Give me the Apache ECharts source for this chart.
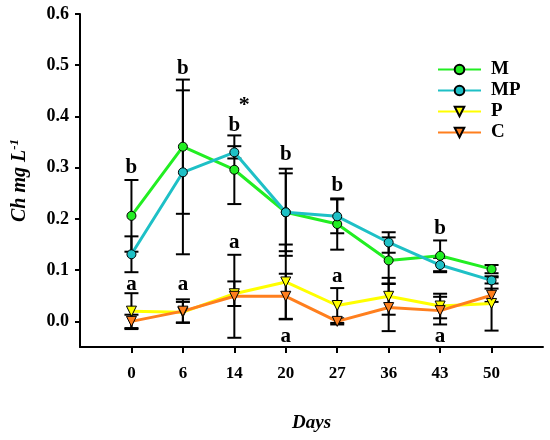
<!DOCTYPE html>
<html>
<head>
<meta charset="utf-8">
<script src="https://cdn.jsdelivr.net/npm/echarts@6/dist/echarts.min.js"></script>
<style>
  html, body { margin: 0; padding: 0; background: #fff; }
  #main { width: 550px; height: 440px; }
</style>
</head>
<body>
<div id="main"></div>
<script>
// days on the x axis (blank slots pad both ends)
var days = ['0', '6', '14', '20', '27', '36', '43', '50'];
var yTicks = [0, 0.1, 0.2, 0.3, 0.4, 0.5, 0.6];

// means and error (one side)
var mVals  = [0.206, 0.341, 0.296, 0.213, 0.190, 0.119, 0.128, 0.102];
var mErr   = [0.070, 0.131, 0.067, 0.085, 0.050, 0.045, 0.030, 0.008];
var mpVals = [0.131, 0.291, 0.330, 0.213, 0.205, 0.154, 0.110, 0.080];
var mpErr  = [0.035, 0.160, 0.012, 0.076, 0.033, 0.020, 0.014, 0.006];
var pVals  = [0.020, 0.018, 0.054, 0.077, 0.031, 0.049, 0.030, 0.035];
var pErr   = [0.035, 0.020, 0.024, 0.073, 0.034, 0.036, 0.024, 0.053];
var cVals  = [0.000, 0.020, 0.049, 0.049, 0.000, 0.027, 0.021, 0.051];
var cErr   = [0.013, 0.023, 0.081, 0.044, 0.006, 0.046, 0.027, 0.013];

// significance letters: day index, y position, text
var letterIdx  = [0, 1, 2, 3, 4, 6, 0, 1, 2, 4, 3, 6, 2];
var letterY    = [0.300, 0.494, 0.383, 0.325, 0.266, 0.182, 0.071, 0.071, 0.153, 0.088, -0.029, -0.029, 0.422];
var letterText = ['b', 'b', 'b', 'b', 'b', 'b', 'a', 'a', 'a', 'a', 'a', 'a', '*'];

var FONT = 'Liberation Serif';
var cats = [''].concat(days, ['']);

function pts(vals) {
    return vals.map(function (v, i) { return [i + 1, v]; });
}

function errData(vals, errs) {
    return vals.map(function (v, i) { return [i + 1, v - errs[i], v + errs[i]]; });
}

function errSeries(vals, errs) {
    return {
        type: 'custom',
        z: 1,
        silent: true,
        data: errData(vals, errs),
        renderItem: function (params, api) {
            var x = api.value(0);
            var lo = api.coord([x, api.value(1)]);
            var hi = api.coord([x, api.value(2)]);
            var w = 7;
            var st = { stroke: '#000', lineWidth: 2 };
            return {
                type: 'group',
                children: [
                    { type: 'line', shape: { x1: lo[0], y1: lo[1], x2: hi[0], y2: hi[1] }, style: st },
                    { type: 'line', shape: { x1: lo[0] - w, y1: lo[1], x2: lo[0] + w, y2: lo[1] }, style: st },
                    { type: 'line', shape: { x1: hi[0] - w, y1: hi[1], x2: hi[0] + w, y2: hi[1] }, style: st }
                ]
            };
        }
    };
}

function lineSeries(name, vals, color, symbol) {
    return {
        name: name,
        type: 'line',
        z: 3,
        data: pts(vals),
        symbol: symbol,
        symbolSize: symbol === 'circle' ? 9 : 10,
        symbolRotate: symbol === 'triangle' ? 180 : 0,
        lineStyle: { color: color, width: 3 },
        itemStyle: { color: color, borderColor: '#000', borderWidth: 1 }
    };
}

var letterData = letterIdx.map(function (d, i) { return [d + 1, letterY[i], letterText[i]]; });

var chart = echarts.init(document.getElementById('main'));

chart.setOption({
    backgroundColor: '#fff',
    animation: false,
    grid: { left: 80, right: 7, top: 14, bottom: 93, containLabel: false, outerBoundsMode: 'none' },
    legend: {
        orient: 'vertical',
        left: 437,
        top: 60,
        padding: 0,
        itemWidth: 43,
        itemHeight: 12,
        itemGap: 2,
        data: ['M', 'MP', 'P', 'C'],
        textStyle: { fontFamily: FONT, fontWeight: 'bold', fontSize: 19, color: '#000', padding: [0, 0, 0, 5] }
    },
    xAxis: {
        type: 'category',
        data: cats,
        boundaryGap: false,
        name: 'Days',
        nameLocation: 'middle',
        nameGap: 67,
        nameTextStyle: { fontFamily: FONT, fontWeight: 'bold', fontStyle: 'italic', fontSize: 19, color: '#000' },
        axisLine: { onZero: false, lineStyle: { color: '#000', width: 2 } },
        axisTick: {
            length: 6,
            lineStyle: { color: '#000', width: 2 },
            interval: function (index) { return index > 0 && index < cats.length - 1; }
        },
        axisLabel: { interval: 0, margin: 18, fontFamily: FONT, fontWeight: 'bold', fontSize: 17, color: '#000' },
        splitLine: { show: false }
    },
    yAxis: {
        type: 'value',
        min: -0.05,
        max: 0.6,
        name: '{a|Ch mg L}{b|-1}',
        nameLocation: 'middle',
        nameRotate: 90,
        nameGap: 48,
        nameTextStyle: {
            rich: {
                a: { fontFamily: FONT, fontWeight: 'bold', fontStyle: 'italic', fontSize: 20, color: '#000', lineHeight: 24 },
                b: { fontFamily: FONT, fontWeight: 'bold', fontStyle: 'italic', fontSize: 13, color: '#000', verticalAlign: 'top', lineHeight: 24 }
            }
        },
        axisLine: { show: true, lineStyle: { color: '#000', width: 2 } },
        axisTick: { show: true, length: 5, customValues: yTicks, lineStyle: { color: '#000', width: 2 } },
        axisLabel: {
            customValues: yTicks,
            margin: 11,
            fontFamily: FONT, fontWeight: 'bold', fontSize: 18, color: '#000',
            formatter: function (v) { return v.toFixed(1); }
        },
        splitLine: { show: false }
    },
    series: [
        errSeries(mVals, mErr),
        errSeries(mpVals, mpErr),
        errSeries(pVals, pErr),
        errSeries(cVals, cErr),
        lineSeries('M', mVals, '#22ee22', 'circle'),
        lineSeries('MP', mpVals, '#1ec0c6', 'circle'),
        lineSeries('P', pVals, '#ffff00', 'triangle'),
        lineSeries('C', cVals, '#ff7f1e', 'triangle'),
        {
            type: 'custom',
            z: 4,
            silent: true,
            data: letterData,
            renderItem: function (params, api) {
                var p = api.coord([api.value(0), api.value(1)]);
                var t = letterData[params.dataIndex][2];
                var star = t === '*';
                return {
                    type: 'text',
                    x: p[0] + (star ? 10 : 0),
                    y: p[1],
                    style: {
                        text: t,
                        fontFamily: FONT,
                        fontWeight: 'bold',
                        fontSize: star ? 22 : 21,
                        fill: '#000',
                        align: 'center',
                        verticalAlign: 'middle'
                    }
                };
            }
        }
    ]
});
</script>
</body>
</html>
